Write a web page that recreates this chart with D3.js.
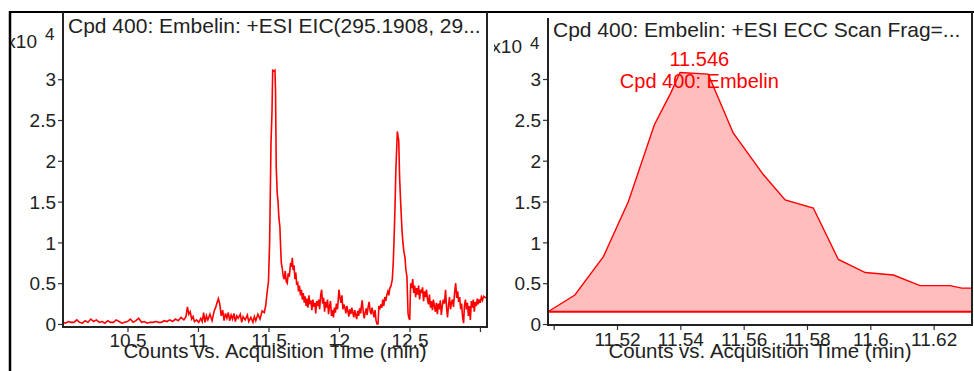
<!DOCTYPE html>
<html><head><meta charset="utf-8">
<script src="https://cdn.jsdelivr.net/npm/d3@7"></script>
<style>html,body{margin:0;padding:0;background:#fff;}svg{display:block;}</style>
</head><body>
<svg id="c" width="974" height="371"></svg>
<script>
// ---------- DATA ----------
const leftTitle = "Cpd 400: Embelin: +ESI EIC(295.1908, 29...";
const rightTitle = "Cpd 400: Embelin: +ESI ECC Scan Frag=...";
const axisTitle = "Counts vs. Acquisition Time (min)";
const yTickValues = [0, 0.5, 1, 1.5, 2, 2.5, 3];
const leftXTicks = [10.5, 11, 11.5, 12, 12.5, 13];
const rightXTicks = [11.50, 11.52, 11.54, 11.56, 11.58, 11.60, 11.62];
const exponentLabel = "x10";
const exponentPower = "4";
const peakRT = 11.546;
const peakName = "Cpd 400: Embelin";
const eccBaseline = 0.15;

// EIC trace (time min, counts x10^4)
const eicPoints = [
[10.04,0.02],[10.06,0.01],[10.08,0.03],[10.10,0.02],[10.12,0.02],[10.14,0.05],[10.16,0.02],[10.18,0.01],[10.20,0.04],[10.22,0.02],
[10.24,0.06],[10.26,0.03],[10.28,0.05],[10.30,0.02],[10.32,0.03],[10.34,0.01],[10.36,0.04],[10.38,0.02],[10.40,0.02],[10.42,0.05],
[10.44,0.03],[10.46,0.01],[10.48,0.02],[10.50,0.03],[10.52,0.06],[10.54,0.02],[10.56,0.04],[10.58,0.07],[10.60,0.02],[10.62,0.03],
[10.64,0.01],[10.66,0.02],[10.68,0.02],[10.70,0.03],[10.72,0.02],[10.74,0.02],[10.76,0.04],[10.78,0.03],[10.80,0.05],[10.82,0.03],
[10.84,0.06],[10.86,0.04],[10.88,0.08],[10.90,0.05],[10.915,0.09],[10.925,0.21],[10.935,0.12],[10.945,0.15],[10.955,0.06],[10.965,0.09],
[10.975,0.03],[10.99,0.05],[11.005,0.02],[11.02,0.07],[11.03,0.03],[11.04,0.14],[11.05,0.02],[11.06,0.10],[11.07,0.05],[11.085,0.12],
[11.10,0.04],[11.115,0.16],[11.125,0.20],[11.135,0.26],[11.145,0.31],[11.155,0.24],[11.165,0.10],[11.175,0.17],[11.185,0.04],[11.195,0.13],
[11.205,0.07],[11.215,0.14],[11.225,0.04],[11.235,0.11],[11.245,0.06],[11.255,0.13],[11.265,0.03],[11.275,0.10],[11.285,0.07],[11.30,0.12],
[11.31,0.02],[11.32,0.09],[11.335,0.05],[11.35,0.11],[11.36,0.03],[11.375,0.08],[11.39,0.02],[11.40,0.09],[11.41,0.04],[11.425,0.12],
[11.44,0.06],[11.455,0.16],[11.47,0.14],[11.48,0.22],[11.49,0.38],[11.50,0.52],[11.508,0.99],[11.513,1.60],[11.518,2.22],[11.525,2.60],
[11.530,3.11],[11.540,3.10],[11.546,3.11],[11.550,2.87],[11.555,1.93],[11.562,1.60],[11.567,1.52],[11.574,1.30],[11.581,1.19],[11.586,0.95],
[11.591,0.75],[11.598,0.68],[11.605,0.58],[11.612,0.55],[11.619,0.65],[11.626,0.52],[11.633,0.50],[11.640,0.62],[11.648,0.58],[11.657,0.75],
[11.663,0.70],[11.669,0.81],[11.675,0.66],[11.681,0.72],[11.688,0.55],[11.694,0.63],[11.700,0.48],[11.707,0.52],[11.713,0.40],[11.720,0.47],
[11.727,0.35],[11.734,0.42],[11.740,0.30],[11.747,0.38],[11.754,0.26],[11.760,0.34],[11.767,0.22],[11.774,0.31],[11.780,0.20],[11.787,0.35],
[11.794,0.24],[11.801,0.29],[11.808,0.17],[11.815,0.30],[11.822,0.21],[11.829,0.26],[11.835,0.13],[11.842,0.28],[11.849,0.22],[11.856,0.30],
[11.863,0.18],[11.870,0.35],[11.877,0.42],[11.884,0.25],[11.891,0.32],[11.898,0.15],[11.905,0.27],[11.912,0.20],[11.919,0.30],[11.926,0.12],
[11.933,0.22],[11.940,0.28],[11.947,0.10],[11.954,0.17],[11.961,0.08],[11.968,0.20],[11.975,0.14],[11.982,0.25],[11.990,0.18],[12.000,0.42],
[12.007,0.32],[12.014,0.26],[12.021,0.35],[12.028,0.18],[12.035,0.24],[12.042,0.20],[12.049,0.13],[12.056,0.22],[12.063,0.16],[12.070,0.09],
[12.077,0.18],[12.084,0.12],[12.091,0.20],[12.098,0.14],[12.105,0.08],[12.112,0.17],[12.119,0.11],[12.126,0.06],[12.133,0.16],[12.140,0.10],
[12.147,0.19],[12.154,0.13],[12.160,0.23],[12.165,0.29],[12.172,0.15],[12.179,0.07],[12.186,0.14],[12.193,0.19],[12.200,0.11],[12.207,0.21],
[12.214,0.27],[12.221,0.16],[12.228,0.12],[12.235,0.20],[12.242,0.14],[12.249,0.08],[12.256,0.17],[12.263,0.04],[12.270,0.00],[12.277,0.00],
[12.283,0.22],[12.290,0.18],[12.297,0.24],[12.304,0.20],[12.311,0.30],[12.318,0.22],[12.325,0.33],[12.332,0.28],[12.340,0.36],[12.347,0.40],
[12.354,0.35],[12.361,0.44],[12.368,0.46],[12.378,0.54],[12.385,0.75],[12.390,0.99],[12.397,1.40],[12.403,1.85],[12.408,2.09],[12.414,2.36],
[12.419,2.30],[12.424,2.25],[12.430,1.80],[12.436,1.55],[12.440,1.40],[12.447,1.15],[12.454,0.99],[12.461,0.88],[12.468,0.82],[12.475,0.66],
[12.482,0.58],[12.487,0.30],[12.490,0.13],[12.495,0.08],[12.502,0.05],[12.506,0.35],[12.509,0.50],[12.516,0.44],[12.523,0.55],[12.530,0.38],
[12.537,0.47],[12.544,0.33],[12.551,0.44],[12.558,0.36],[12.565,0.47],[12.572,0.30],[12.579,0.42],[12.586,0.38],[12.593,0.45],[12.600,0.28],
[12.607,0.40],[12.614,0.33],[12.621,0.42],[12.628,0.30],[12.635,0.24],[12.642,0.36],[12.649,0.20],[12.656,0.28],[12.663,0.17],[12.670,0.30],
[12.677,0.22],[12.684,0.15],[12.691,0.26],[12.698,0.12],[12.705,0.25],[12.712,0.18],[12.719,0.29],[12.726,0.11],[12.733,0.22],[12.740,0.30],
[12.748,0.25],[12.756,0.42],[12.763,0.20],[12.770,0.08],[12.777,0.23],[12.784,0.33],[12.791,0.18],[12.798,0.26],[12.805,0.30],[12.812,0.21],
[12.820,0.38],[12.828,0.50],[12.835,0.32],[12.842,0.40],[12.849,0.27],[12.856,0.33],[12.863,0.18],[12.870,0.25],[12.877,0.08],[12.884,0.01],
[12.890,0.22],[12.897,0.30],[12.904,0.18],[12.911,0.26],[12.918,0.10],[12.925,0.22],[12.932,0.05],[12.939,0.28],[12.946,0.20],[12.953,0.30],
[12.960,0.15],[12.967,0.27],[12.974,0.22],[12.981,0.31],[12.988,0.24],[12.995,0.30],[13.002,0.26],[13.010,0.33],[13.018,0.29],[13.026,0.34],
[13.035,0.33],[13.050,0.31]
];

// ECC peak (time min, counts x10^4)
const eccTime   = [11.4982,11.5067,11.5157,11.5236,11.5318,11.5370,11.5399,11.5488,11.5567,11.5662,11.5731,11.5820,11.5899,11.5984,11.6073,11.6157,11.6252,11.6289,11.6321];
const eccCounts = [0.15,   0.355,  0.825,  1.50,   2.44,   2.83,   3.08,   3.06,   2.34,   1.83,   1.52,   1.42,   0.79,   0.63,   0.60,   0.47,   0.47,   0.44,   0.44];

// ---------- DRAW ----------
const svg = d3.select("#c");
const FONT = "'Liberation Sans', Arial, sans-serif";
const TXT = "#222";
const RED = "#ff0000";

const defs = svg.append("defs");

function panel(cfg) {
  const g = svg.append("g");
  const clipId = "clip" + cfg.id, plotClip = "pclip" + cfg.id;
  defs.append("clipPath").attr("id", clipId).append("rect")
    .attr("x", cfg.clipX0).attr("y", 0).attr("width", cfg.clipX1 - cfg.clipX0).attr("height", 371);
  defs.append("clipPath").attr("id", plotClip).append("rect")
    .attr("x", cfg.x0).attr("y", cfg.yTop).attr("width", cfg.x1 - cfg.x0).attr("height", cfg.yBot - cfg.yTop);
  const root = g.append("g").attr("clip-path", `url(#${clipId})`);

  const x = d3.scaleLinear().domain(cfg.xDomain).range([cfg.x0, cfg.x1]);
  const y = d3.scaleLinear().domain(cfg.yDomain).range([cfg.yBot, cfg.yTop]);

  const plot = root.append("g").attr("clip-path", `url(#${plotClip})`);
  cfg.drawData(plot, x, y);

  // y axis
  const yAxis = d3.axisLeft(y).tickValues(yTickValues).tickSize(5).tickFormat(d => String(d));
  const ya = root.append("g").attr("transform", `translate(${cfg.x0},0)`).call(yAxis);
  ya.select(".domain").remove();
  ya.selectAll(".tick line").attr("stroke", "#333").attr("stroke-width", 1.2);
  ya.selectAll(".tick text").attr("font-family", FONT).attr("font-size", 19).attr("fill", TXT)
    .attr("x", -7).attr("dy", "0.35em");
  root.append("line").attr("x1", cfg.x0).attr("x2", cfg.x0).attr("y1", cfg.yAxisTop).attr("y2", cfg.yBot + 1)
    .attr("stroke", "#222").attr("stroke-width", 2);

  // x axis
  const xAxis = d3.axisBottom(x).tickValues(cfg.xTicks).tickSize(5).tickFormat(d => d3.format("~g")(d));
  const xa = root.append("g").attr("transform", `translate(0,${cfg.yBot})`).call(xAxis);
  xa.select(".domain").remove();
  xa.selectAll(".tick line").attr("stroke", "#333").attr("stroke-width", 1.2);
  xa.selectAll(".tick text").attr("font-family", FONT).attr("font-size", 19).attr("fill", TXT)
    .attr("y", 0).attr("dy", 0).attr("transform", `translate(0,${cfg.xLabelBase - cfg.yBot})`)
    .each(function() {
      const bb = this.getBBox();
      const tx = x(d3.select(this.parentNode).datum());
      if (tx + bb.x < cfg.x0 || tx + bb.x + bb.width > cfg.x1) d3.select(this).remove();
    });
  root.append("line").attr("x1", cfg.x0).attr("x2", cfg.x1 + 1).attr("y1", cfg.yBot).attr("y2", cfg.yBot)
    .attr("stroke", "#222").attr("stroke-width", 2);
  // right frame
  root.append("line").attr("x1", cfg.x1).attr("x2", cfg.x1).attr("y1", cfg.frameTop).attr("y2", cfg.yBot + 1)
    .attr("stroke", "#222").attr("stroke-width", 2);

  // titles
  root.append("text").attr("x", cfg.x0 + 5).attr("y", cfg.titleBase).attr("font-family", FONT)
    .attr("font-size", 21).attr("fill", TXT).text(cfg.title);
  root.append("text").attr("x", (cfg.x0 + cfg.x1) / 2).attr("y", cfg.axisTitleBase).attr("text-anchor", "middle")
    .attr("font-family", FONT).attr("font-size", 20.5).attr("fill", TXT).text(axisTitle);
  // exponent
  root.append("text").attr("x", cfg.expX).attr("y", cfg.expBase).attr("text-anchor", "end")
    .attr("font-family", FONT).attr("font-size", 19).attr("fill", TXT).text(exponentLabel);
  root.append("text").attr("x", cfg.expX + 8).attr("y", cfg.expBase - cfg.expRaise)
    .attr("font-family", FONT).attr("font-size", 17).attr("fill", TXT).text(exponentPower);
}

// outer frames
svg.append("line").attr("x1", 10).attr("x2", 974).attr("y1", 12).attr("y2", 12).attr("stroke", "#000").attr("stroke-width", 2);
svg.append("line").attr("x1", 10).attr("x2", 10).attr("y1", 11).attr("y2", 371).attr("stroke", "#000").attr("stroke-width", 2.5);

panel({
  id: "L", clipX0: 11, clipX1: 489,
  x0: 63, x1: 487, yTop: 12, yBot: 327, yAxisTop: 12, frameTop: 12,
  xDomain: [10.0426, 13.05], yDomain: [-0.037, 3.824],
  xTicks: leftXTicks, xLabelBase: 347, axisTitleBase: 358, titleBase: 33,
  title: leftTitle, expX: 37, expBase: 48, expRaise: 8,
  drawData: (g, x, y) => {
    g.append("path").datum(eicPoints)
      .attr("d", d3.line().x(d => x(d[0])).y(d => y(d[1])))
      .attr("fill", "none").attr("stroke", RED).attr("stroke-width", 1.6).attr("stroke-linejoin", "miter");
  }
});

panel({
  id: "R", clipX0: 494, clipX1: 974,
  x0: 548, x1: 972, yTop: 18, yBot: 325, yAxisTop: 18, frameTop: 12,
  xDomain: [11.49821, 11.63211], yDomain: [-0.012, 3.747],
  xTicks: rightXTicks, xLabelBase: 346, axisTitleBase: 358, titleBase: 37,
  title: rightTitle, expX: 522, expBase: 53, expRaise: 4,
  drawData: (g, x, y) => {
    const pts = eccTime.map((t, i) => [t, eccCounts[i]]);
    g.append("path").datum(pts)
      .attr("d", d3.area().x(d => x(d[0])).y0(y(eccBaseline)).y1(d => y(d[1])))
      .attr("fill", "#ffbdbd").attr("stroke", "none");
    g.append("path").datum(pts)
      .attr("d", d3.line().x(d => x(d[0])).y(d => y(d[1])))
      .attr("fill", "none").attr("stroke", RED).attr("stroke-width", 1.4);
    g.append("line").attr("x1", x.range()[0]).attr("x2", x.range()[1])
      .attr("y1", y(eccBaseline)).attr("y2", y(eccBaseline))
      .attr("stroke", RED).attr("stroke-width", 2);
    const apexY = y(d3.max(eccCounts));
    g.append("text").attr("x", x(peakRT)).attr("y", apexY - 6).attr("text-anchor", "middle")
      .attr("font-family", FONT).attr("font-size", 20).attr("fill", RED).text(d3.format(".3f")(peakRT));
    g.append("text").attr("x", x(peakRT)).attr("y", apexY + 16).attr("text-anchor", "middle")
      .attr("font-family", FONT).attr("font-size", 20).attr("fill", RED).text(peakName);
  }
});
</script>
</body></html>
